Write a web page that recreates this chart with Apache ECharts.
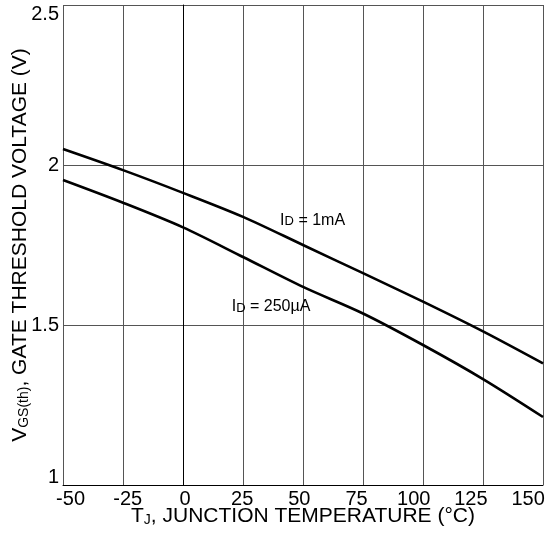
<!DOCTYPE html>
<html>
<head>
<meta charset="utf-8">
<script src="https://cdn.jsdelivr.net/npm/echarts@6/dist/echarts.min.js"></script>
<style>html,body{margin:0;padding:0;background:#fff;}#c{width:558px;height:533px;}</style>
</head>
<body>
<div id="c"></div>
<script>
var temps = [-50, -25, 0, 25, 50, 75, 100, 125, 150];
var vth1mA = [2.05, 1.984, 1.913, 1.838, 1.75, 1.662, 1.573, 1.48, 1.38];
var vth250uA = [1.953, 1.882, 1.805, 1.7125, 1.619, 1.536, 1.4375, 1.331, 1.2125];
var xTicks = [-50, -25, 0, 25, 50, 75, 100, 125, 150];
var yTicks = [1, 1.5, 2, 2.5];
// the printed tick labels in the original sit on a slightly compressed scale
var xLabelRange = [-53.3, 156.5];
var label1mA = {coord: [54, 1.843], main: 'I', sub: 'D', rest: ' = 1mA'};
var label250uA = {coord: [36.7, 1.5725], main: 'I', sub: 'D', rest: ' = 250\u00b5A'};

function pairs(xs, ys) { return xs.map(function (x, i) { return [x, ys[i]]; }); }
var FONT = 'Liberation Sans, Arial, sans-serif';

function annot(l) {
  return {
    coord: l.coord,
    symbol: 'circle', symbolSize: 1,
    itemStyle: {color: 'rgba(0,0,0,0)'},
    label: {
      show: true, position: 'inside',
      formatter: '{n|' + l.main + '}{s|' + l.sub + '}{n|' + l.rest + '}',
      rich: {
        n: {fontSize: 16, fontFamily: FONT, color: '#000', lineHeight: 26, verticalAlign: 'bottom'},
        s: {fontSize: 13, fontFamily: FONT, color: '#000', lineHeight: 14, verticalAlign: 'bottom'}
      }
    }
  };
}

var chart = echarts.init(document.getElementById('c'), null, {renderer: 'canvas'});
chart.setOption({
  animation: false,
  backgroundColor: '#fff',
  grid: {left: 63, right: 15, top: 5, bottom: 48, containLabel: false, outerBoundsMode: 'none'},
  xAxis: [{
    type: 'value', min: xTicks[0], max: xTicks[xTicks.length - 1], interval: 25,
    position: 'bottom',
    axisLine: {show: true, lineStyle: {color: '#000', width: 1}},
    axisTick: {show: false},
    splitLine: {show: true, lineStyle: {color: '#555', width: 1}},
    axisLabel: {show: false},
    name: '{n|T}{s|J}{n|, JUNCTION TEMPERATURE (\u00b0C)}',
    nameLocation: 'middle', nameGap: 16, nameMoveOverlap: false,
    nameTextStyle: {
      rich: {
        n: {fontSize: 21, fontFamily: FONT, color: '#000', lineHeight: 26, verticalAlign: 'bottom'},
        s: {fontSize: 14, fontFamily: FONT, color: '#000', lineHeight: 16, verticalAlign: 'bottom'}
      }
    }
  }, {
    type: 'value', min: xLabelRange[0], max: xLabelRange[1],
    position: 'bottom', offset: 0,
    axisLine: {show: false},
    axisTick: {show: false},
    splitLine: {show: false},
    axisLabel: {
      show: true, customValues: xTicks,
      fontSize: 20, fontFamily: FONT, color: '#000', margin: 4,
      showMinLabel: true, showMaxLabel: true, hideOverlap: false
    }
  }],
  yAxis: {
    type: 'value', min: yTicks[0], max: yTicks[yTicks.length - 1], interval: 0.5,
    axisLine: {show: true, lineStyle: {color: '#000', width: 1}},
    axisTick: {show: false},
    splitLine: {show: true, lineStyle: {color: '#555', width: 1}},
    axisLabel: {
      fontSize: 20, fontFamily: FONT, color: '#000', margin: 4,
      formatter: function (v) {
        if (v === yTicks[yTicks.length - 1]) return '{t|' + v + '}';
        if (v === yTicks[0]) return '{b|' + v + '}';
        return '{m|' + v + '}';
      },
      rich: {
        t: {fontSize: 20, fontFamily: FONT, color: '#000', padding: [18, 0, 0, 0]},
        b: {fontSize: 20, fontFamily: FONT, color: '#000', padding: [0, 0, 16, 0]},
        m: {fontSize: 20, fontFamily: FONT, color: '#000'}
      }
    },
    name: '{n|V}{s|GS(th)}{n|, GATE THRESHOLD VOLTAGE (V)}',
    nameLocation: 'middle', nameGap: 32, nameRotate: 90, nameMoveOverlap: false,
    nameTextStyle: {
      rich: {
        n: {fontSize: 21, fontFamily: FONT, color: '#000', lineHeight: 26, verticalAlign: 'bottom'},
        s: {fontSize: 14, fontFamily: FONT, color: '#000', lineHeight: 16, verticalAlign: 'bottom'}
      }
    }
  },
  series: [
    {
      type: 'line', xAxisIndex: 0, data: pairs(temps, vth1mA), smooth: 0.3, showSymbol: false,
      lineStyle: {color: '#000', width: 2.6},
      markPoint: {data: [annot(label1mA)], animation: false}
    },
    {
      type: 'line', xAxisIndex: 0, data: pairs(temps, vth250uA), smooth: 0.3, showSymbol: false,
      lineStyle: {color: '#000', width: 2.6},
      markPoint: {data: [annot(label250uA)], animation: false}
    }
  ]
});
</script>
</body>
</html>
